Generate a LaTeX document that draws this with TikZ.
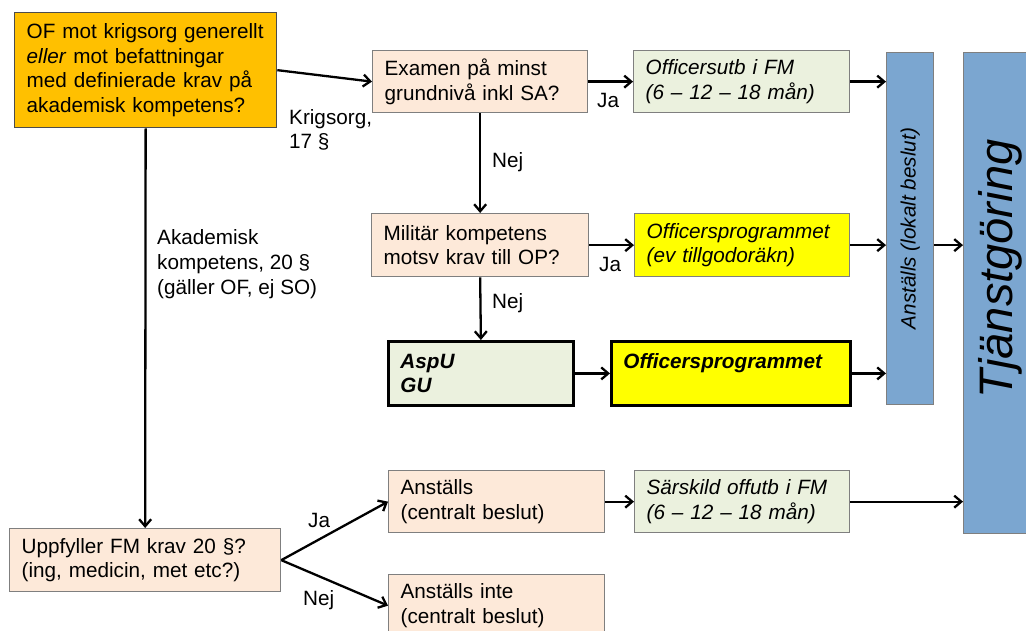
\documentclass[tikz,border=0pt]{standalone}
\usepackage{fontspec}
\setmainfont{Liberation Sans}
\usetikzlibrary{arrows.meta}
\definecolor{gold}{HTML}{FFC000}
\definecolor{peach}{HTML}{FDE9D9}
\definecolor{lgreen}{HTML}{EBF1DE}
\definecolor{yel}{HTML}{FFFF00}
\definecolor{blu}{HTML}{7BA6D0}
\definecolor{bord}{HTML}{7F7F7F}
\begin{document}
\begin{tikzpicture}[x=1pt,y=-1pt,
  every node/.style={font=\fontsize{20.7}{24.7}\selectfont},
  box/.style={draw=bord, line width=1.3pt, rectangle, anchor=north west, inner xsep=12pt, inner ysep=0pt, align=left},
  thickbox/.style={box, draw=black, line width=2.8pt},
  arr/.style={line width=2.3pt, -{Straight Barb[length=7pt,width=12pt]}},
  lbl/.style={inner sep=0pt, align=left, anchor=west},
]
\useasboundingbox (0,0) rectangle (1026,631);
\node[box, fill=gold, draw=black!70, minimum width=262, minimum height=115, text width=238] (b1) at (14,12)
  {OF mot krigsorg generellt\\ \textit{eller} mot befattningar\\ med definierade krav på\\ akademisk kompetens?};
\node[box, fill=peach, minimum width=215, minimum height=62, text width=191] (exam) at (372,50)
  {Examen på minst\\ grundnivå inkl SA?};
\node[box, fill=lgreen, minimum width=216, minimum height=62, text width=192] (offutb) at (633,50)
  {\itshape Officersutb i FM\\ (6 – 12 – 18 mån)};
\node[box, fill=peach, minimum width=217, minimum height=63, text width=193] (mil) at (371,213)
  {Militär kompetens\\ motsv krav till OP?};
\node[box, fill=yel, minimum width=215, minimum height=63, text width=191] (offprog) at (634,213)
  {\itshape Officersprogrammet\\ (ev tillgodoräkn)};
\node[thickbox, fill=lgreen, minimum width=185, minimum height=64, text width=161] (aspu) at (387,340)
  {\bfseries\itshape AspU\\ GU};
\node[thickbox, fill=yel, minimum width=239, minimum height=64, text width=215] (offprog2) at (610,340)
  {\bfseries\itshape Officersprogrammet\\ \mbox{}};
\node[box, fill=peach, minimum width=271, minimum height=63, text width=247] (upp) at (9,528)
  {Uppfyller FM krav 20 §?\\ (ing, medicin, met etc?)};
\node[box, fill=peach, minimum width=216, minimum height=62, text width=192] (ans) at (388,470)
  {Anställs\\ (centralt beslut)};
\node[box, fill=peach, minimum width=216, minimum height=62, text width=192] (ansi) at (388,574)
  {Anställs inte\\ (centralt beslut)};
\node[box, fill=lgreen, minimum width=215, minimum height=62, text width=191] (sar) at (634,470)
  {\itshape Särskild offutb i FM\\ (6 – 12 – 18 mån)};
\node[box, fill=blu, minimum width=47, minimum height=352] (bar) at (886,52) {};
\node[box, fill=blu, minimum width=70, minimum height=481] (tj) at (963,52) {};
\node[rotate=90, inner sep=0pt] (bartext) at (bar.center) {\itshape Anställs (lokalt beslut)};
\node[rotate=90, inner sep=0pt, font=\fontsize{47}{50}\selectfont\itshape] (tjtext) at (1000,269) {Tjänstgöring};
% labels
\node[lbl] (lkrig) at (289,130) {Krigsorg,\\ 17 §};
\node[lbl] (lja1) at (597,100) {Ja};
\node[lbl] (lnej1) at (492,162) {Nej};
\node[lbl] (lja2) at (599,264) {Ja};
\node[lbl] (lnej2) at (492,303) {Nej};
\node[lbl] (lakad) at (157,264) {Akademisk\\ kompetens, 20 §\\ (gäller OF, ej SO)};
\node[lbl] (lja3) at (308,520) {Ja};
\node[lbl] (lnej3) at (303,600) {Nej};
% connectors
\draw[arr] (b1.east) -- (exam.west);
\draw[arr] (exam.east) -- (offutb.west);
\draw[arr] (offutb.east) -- (offutb.east -| bar.west);
\draw[arr] (exam.south) -- (mil.north);
\draw[arr] (mil.east) -- (offprog.west);
\draw[arr] (offprog.east) -- (offprog.east -| bar.west);
\draw[arr] (mil.south) -- (aspu.north);
\draw[arr] (aspu.east) -- (offprog2.west);
\draw[arr] (offprog2.east) -- (offprog2.east -| bar.west);
\draw[arr] (bar.east |- mil.east) -- (tj.west |- mil.east);
\draw[arr] (b1.south) -- (upp.north);
\draw[arr] (upp.east) -- (ans.west);
\draw[arr] (upp.east) -- (ansi.west);
\draw[arr] (ans.east) -- (sar.west);
\draw[arr] (sar.east) -- (sar.east -| tj.west);
\end{tikzpicture}
\end{document}
